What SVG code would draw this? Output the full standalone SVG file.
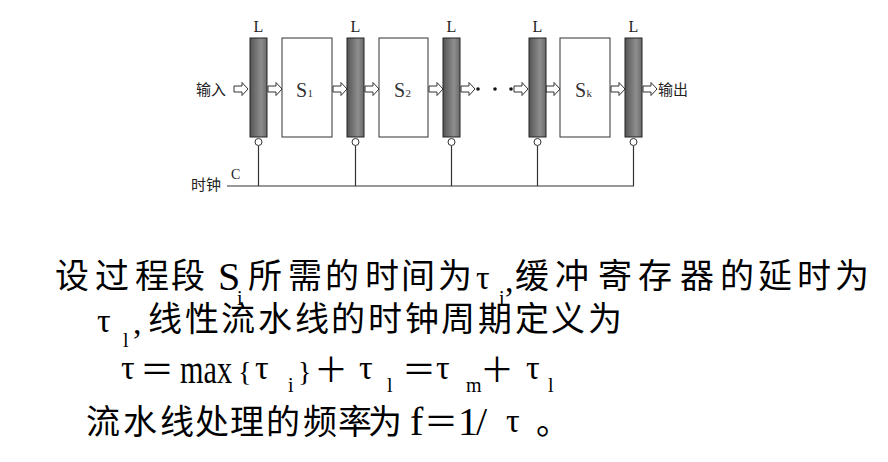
<svg xmlns="http://www.w3.org/2000/svg" width="888" height="462" viewBox="0 0 888 462">
<defs>
<linearGradient id="latchGrad" x1="0" y1="0" x2="1" y2="0">
<stop offset="0" stop-color="#555"/>
<stop offset="0.65" stop-color="#8e8e8e"/>
<stop offset="1" stop-color="#6a6a6a"/>
</linearGradient>
<path id="harrow" d="M0,-3 H8 V-6.5 L14,0 L8,6.5 V3 H0 Z"/>
</defs>
<style>
.latch{fill:url(#latchGrad);stroke:#222;stroke-width:1}
.stage{fill:#fff;stroke:#333;stroke-width:1}
.bub{fill:#fff;stroke:#333;stroke-width:1}
.wire{fill:none;stroke:#333;stroke-width:1.2}
.arr{fill:#fff;stroke:#333;stroke-width:1}
.dlab{font-family:"Liberation Serif",serif;font-size:16px;fill:#222}
.slab{font-family:"Liberation Serif",serif;font-size:20px;fill:#333}
.ssub{font-family:"Liberation Serif",serif;font-size:11px;fill:#333}
.dcn{font-family:"Noto Sans CJK SC",sans-serif;font-size:15px;fill:#222}
.cn{font-family:"Noto Sans CJK SC",sans-serif;font-size:34px;fill:#000}
.lat{font-family:"Liberation Serif","Noto Sans CJK SC",serif;font-size:40px;fill:#000}
.tau{font-family:"Liberation Serif",serif;font-size:34px;fill:#000}
.sub{font-family:"Liberation Serif",serif;font-size:20px;fill:#000}
.br{font-family:"Liberation Serif",serif;font-size:28px;fill:#000}
</style>
<rect width="888" height="462" fill="#fff"/>

<g id="connectors">
<g id="clock-wires">
<path class="wire" d="M227,186 H634 M258.5,146 V186 M355.5,146 V186 M451.5,146 V186 M537.5,146 V186 M633.5,146 V186"/>
</g>
<g id="data-arrows">
<use href="#harrow" class="arr" x="234" y="89"/>
<use href="#harrow" class="arr" x="268" y="89"/>
<use href="#harrow" class="arr" x="333" y="89"/>
<use href="#harrow" class="arr" x="365" y="89"/>
<use href="#harrow" class="arr" x="429" y="89"/>
<use href="#harrow" class="arr" x="461" y="89"/>
<use href="#harrow" class="arr" x="514" y="89"/>
<use href="#harrow" class="arr" x="546" y="89"/>
<use href="#harrow" class="arr" x="611" y="89"/>
<use href="#harrow" class="arr" x="643" y="89"/>
</g>
<g id="ellipsis">
<circle cx="478" cy="89" r="1.8" fill="#111"/>
<circle cx="495" cy="89" r="1.8" fill="#111"/>
<circle cx="511" cy="89" r="1.8" fill="#111"/>
</g>
</g>

<g id="latch1"><text class="dlab" x="258.5" y="32" text-anchor="middle">L</text><rect class="latch" x="250" y="38" width="17" height="99"/><circle class="bub" cx="258.5" cy="142" r="3.5"/></g>
<g id="latch2"><text class="dlab" x="355.5" y="32" text-anchor="middle">L</text><rect class="latch" x="347" y="38" width="17" height="99"/><circle class="bub" cx="355.5" cy="142" r="3.5"/></g>
<g id="latch3"><text class="dlab" x="451.5" y="32" text-anchor="middle">L</text><rect class="latch" x="443" y="38" width="17" height="99"/><circle class="bub" cx="451.5" cy="142" r="3.5"/></g>
<g id="latch4"><text class="dlab" x="537.5" y="32" text-anchor="middle">L</text><rect class="latch" x="529" y="38" width="17" height="99"/><circle class="bub" cx="537.5" cy="142" r="3.5"/></g>
<g id="latch5"><text class="dlab" x="633.5" y="32" text-anchor="middle">L</text><rect class="latch" x="625" y="38" width="17" height="99"/><circle class="bub" cx="633.5" cy="142" r="3.5"/></g>

<g id="stage1"><rect class="stage" x="282" y="38" width="50" height="99"/><text class="slab" x="296" y="97">S</text><text class="ssub" x="307.5" y="97">1</text></g>
<g id="stage2"><rect class="stage" x="379" y="38" width="49" height="99"/><text class="slab" x="394" y="97">S</text><text class="ssub" x="405.5" y="97">2</text></g>
<g id="stagek"><rect class="stage" x="560" y="38" width="50" height="99"/><text class="slab" x="575" y="97">S</text><text class="ssub" x="586.5" y="97">k</text></g>

<g id="input"><text class="dcn" x="196" y="95">输入</text></g>
<g id="output"><text class="dcn" x="658" y="95">输出</text></g>
<g id="clock"><text class="dcn" x="191" y="190">时钟</text><text class="dlab" x="231" y="179" style="font-size:14px">C</text></g>

<g id="description">
<text class="cn" x="55 95 135 171" y="288">设过程段</text>
<text class="lat" x="218" y="290">S</text>
<text class="sub" x="237" y="305">i</text>
<text class="cn" x="248 288 325 365 401 438" y="288">所需的时间为</text>
<text class="tau" x="476" y="289">τ</text>
<text class="sub" x="499" y="305">i</text>
<text class="tau" x="505" y="292">,</text>
<text class="cn" x="515 555 598 638 680 720 758 797 835" y="288">缓冲寄存器的延时为</text>

<text class="tau" x="97" y="332">τ</text>
<text class="sub" x="123" y="347">l</text>
<text class="tau" x="133" y="334">,</text>
<text class="cn" x="148 185 221 258 295 331 368 405 441 478 515 551 588" y="331">线性流水线的时钟周期定义为</text>

<text class="tau" x="121" y="379">τ</text>
<text class="cn" x="140" y="382">＝</text>
<text class="lat" x="180" y="383" textLength="52" lengthAdjust="spacingAndGlyphs">max</text>
<text class="br" x="238" y="381">{</text>
<text class="tau" x="255" y="379">τ</text>
<text class="sub" x="288" y="392">i</text>
<text class="br" x="298" y="381">}</text>
<text class="cn" x="314" y="382">＋</text>
<text class="tau" x="359" y="379">τ</text>
<text class="sub" x="387" y="392">l</text>
<text class="cn" x="402" y="382">＝</text>
<text class="tau" x="436" y="379">τ</text>
<text class="sub" x="466" y="392">m</text>
<text class="cn" x="480" y="382">＋</text>
<text class="tau" x="526" y="379">τ</text>
<text class="sub" x="548" y="392">l</text>

<text class="cn" x="86 123 160 195 230 266 303 338 368" y="434">流水线处理的频率为</text>
<text class="lat" x="410" y="435">f</text>
<text class="cn" x="424" y="434">＝</text>
<text class="lat" x="458" y="435">1</text>
<text class="lat" x="476" y="435">/</text>
<text class="tau" x="506" y="432">τ</text>
<text class="cn" x="536" y="434">。</text>
</g>
</svg>
